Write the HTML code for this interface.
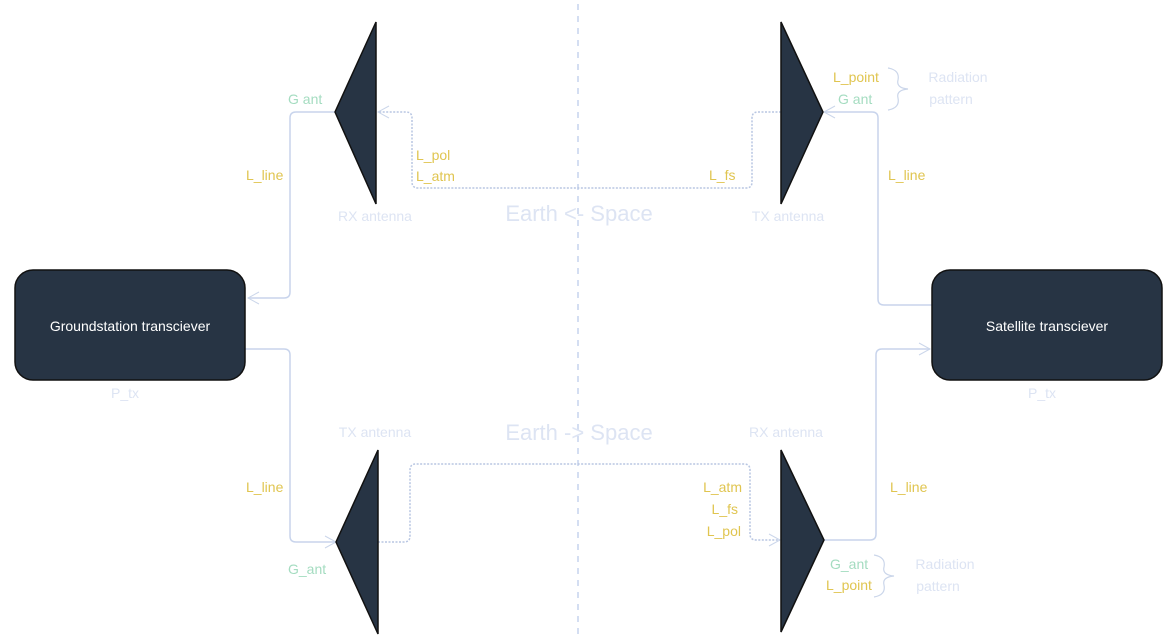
<!DOCTYPE html>
<html><head><meta charset="utf-8"><style>
html,body{margin:0;padding:0;background:#fff;}
svg{display:block;font-family:"Liberation Sans",sans-serif;}
</style></head><body>
<svg width="1175" height="640" viewBox="0 0 1175 640" xmlns="http://www.w3.org/2000/svg">
<defs>
<marker id="ar" markerWidth="14" markerHeight="14" refX="12" refY="7" orient="auto" markerUnits="userSpaceOnUse">
<path d="M1,1 L12,7 L1,13" fill="none" stroke="#cbd6ea" stroke-width="1"/>
</marker>
</defs>
<line x1="578" y1="4" x2="578" y2="636" stroke="#c6d3ee" stroke-width="1.5" stroke-dasharray="6,6"/>
<g fill="none" stroke="#c8d4ec" stroke-width="1.5">
<path d="M335,112 H296 Q290,112 290,118 V292 Q290,298 284,298 H248" marker-end="url(#ar)"/>
<path d="M245,349 H284 Q290,349 290,355 V536 Q290,542 296,542 H336" marker-end="url(#ar)"/>
<path d="M932,305 H884 Q878,305 878,299 V118 Q878,112 872,112 H824" marker-end="url(#ar)"/>
<path d="M824,540 H870 Q876,540 876,534 V355 Q876,349 882,349 H930" marker-end="url(#ar)"/>
</g>
<g fill="none" stroke="#b8c6e2" stroke-width="1.5" stroke-dasharray="2,1.5">
<path d="M781,112 H758 Q752,112 752,118 V182 Q752,188 746,188 H418 Q412,188 412,182 V118 Q412,112 406,112 H378" marker-end="url(#ar)"/>
<path d="M378,542 H404 Q410,542 410,536 V470 Q410,464 416,464 H744 Q750,464 750,470 V534 Q750,540 756,540 H780" marker-end="url(#ar)"/>
</g>
<g fill="#273444" stroke="#111" stroke-width="1.5">
<polygon points="376,22 376,204 335,112"/>
<polygon points="781,22 781,204 823,112"/>
<polygon points="378,450 378,634 336,542"/>
<polygon points="781,450 781,632 824,540"/>
</g>
<rect x="15" y="270" width="230" height="110" rx="18" fill="#273444" stroke="#111" stroke-width="1.5"/>
<rect x="932" y="270" width="230" height="110" rx="18" fill="#273444" stroke="#111" stroke-width="1.5"/>
<g fill="#fff" font-size="14" text-anchor="middle">
<text x="130" y="331">Groundstation transciever</text>
<text x="1047" y="331">Satellite transciever</text>
</g>
<g fill="#dde4f3" font-size="14" text-anchor="middle">
<text x="375" y="221">RX antenna</text>
<text x="788" y="221">TX antenna</text>
<text x="375" y="437">TX antenna</text>
<text x="786" y="437">RX antenna</text>
<text x="125" y="398">P_tx</text>
<text x="1042" y="398">P_tx</text>
<text x="958" y="82">Radiation</text>
<text x="951" y="104">pattern</text>
<text x="945" y="569">Radiation</text>
<text x="938" y="591">pattern</text>
<text x="579" y="221" font-size="22">Earth &lt;- Space</text>
<text x="579" y="440" font-size="22">Earth -&gt; Space</text>
</g>
<g fill="#e0c550" font-size="14">
<text x="246" y="180">L_line</text>
<text x="416" y="160">L_pol</text>
<text x="416" y="181">L_atm</text>
<text x="709" y="180">L_fs</text>
<text x="888" y="180">L_line</text>
<text x="833" y="82">L_point</text>
<text x="246" y="492">L_line</text>
<text x="890" y="492">L_line</text>
<text x="742" y="492" text-anchor="end">L_atm</text>
<text x="738" y="514" text-anchor="end">L_fs</text>
<text x="741" y="536" text-anchor="end">L_pol</text>
<text x="826" y="590">L_point</text>
</g>
<g fill="#a4dcc0" font-size="14">
<text x="288" y="104">G ant</text>
<text x="838" y="104">G ant</text>
<text x="288" y="574">G_ant</text>
<text x="830" y="569">G_ant</text>
</g>
<g fill="none" stroke="#cbd6ea" stroke-width="1.2">
<path d="M888,68 Q900,70 898,80 Q896,88 908,89 Q896,90 898,98 Q900,108 888,110"/>
<path d="M874,555 Q886,557 884,567 Q882,575 894,576 Q882,577 884,585 Q886,595 874,597"/>
</g>
</svg>
</body></html>
